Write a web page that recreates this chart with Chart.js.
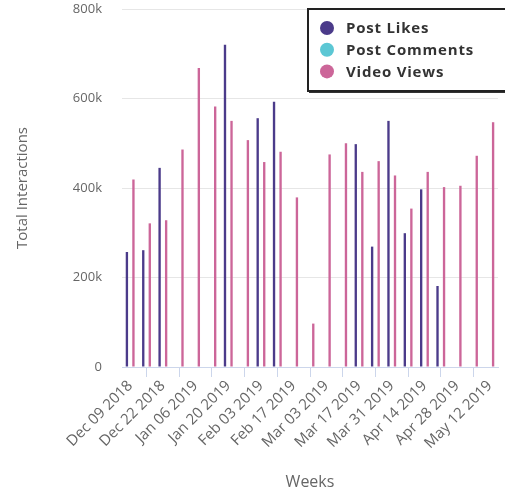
<!DOCTYPE html>
<html>
<head>
<meta charset="utf-8">
<script src="https://cdn.jsdelivr.net/npm/chart.js@4.4.0/dist/chart.umd.min.js"></script>
<style>
  html, body { margin: 0; padding: 0; background: #fff; }
  #wrap { width: 505px; height: 496px; position: relative; }
</style>
</head>
<body>
<div id="wrap"><canvas id="weeksChart"></canvas></div>
<script>
// dữ liệu theo tuần
const weeks = ['Dec 09 2018', 'Dec 16 2018', 'Dec 22 2018', 'Dec 30 2018', 'Jan 06 2019', 'Jan 13 2019',
    'Jan 20 2019', 'Jan 27 2019', 'Feb 03 2019', 'Feb 10 2019', 'Feb 17 2019', 'Feb 24 2019',
    'Mar 03 2019', 'Mar 10 2019', 'Mar 17 2019', 'Mar 24 2019', 'Mar 31 2019', 'Apr 07 2019',
    'Apr 14 2019', 'Apr 21 2019', 'Apr 28 2019', 'May 05 2019', 'May 12 2019'];
const postLikes = [257000, 261000, 445000, 0, 0, 0, 720000, 0, 556000, 593000, 0, 0,
    0, 0, 498000, 269000, 550000, 299000, 397000, 181000, 0, 0, 0];
const postComments = [0, 0, 0, 0, 0, 0, 0, 0, 0, 0, 0, 0, 0, 0, 0, 0, 0, 0, 0, 0, 0, 0, 0];
const videoViews = [419000, 321000, 328000, 486000, 668000, 582000, 550000, 507000, 458000, 481000, 379000, 97000,
    475000, 500000, 436000, 460000, 428000, 354000, 436000, 402000, 405000, 472000, 547000];
const yTicks = [0, 200000, 400000, 600000, 800000];

const FONT = "'Open Sans', 'DejaVu Sans', sans-serif";

// legend có viền, vẽ đè lên vùng biểu đồ
const boxLegend = {
    id: 'boxLegend',
    afterDraw(chart) {
        const c = chart.ctx;
        const x = 308, y = 9, w = 210, h = 82;
        c.save();
        c.fillStyle = '#333';
        c.fillRect(x + 1, y + 1, w, h + 1);
        c.fillStyle = '#fff';
        c.fillRect(x, y, w, h);
        c.lineWidth = 2;
        c.strokeStyle = '#222';
        c.strokeRect(x, y, w, h);
        chart.data.datasets.forEach((ds, i) => {
            const cy = y + 19 + i * 21.7;
            c.beginPath();
            c.arc(x + 19, cy, 7, 0, Math.PI * 2);
            c.fillStyle = ds.backgroundColor;
            c.fill();
            c.fillStyle = '#333';
            c.font = 'bold 15px ' + FONT;
            c.letterSpacing = '0.8px';
            c.textBaseline = 'middle';
            c.textAlign = 'left';
            c.fillText(ds.label, x + 38, cy + 1);
        });
        c.restore();
    }
};

document.addEventListener('DOMContentLoaded', () => {
    const ctx = document.getElementById('weeksChart');
    new Chart(ctx.getContext('2d'), {
        type: 'bar',
        data: {
            labels: weeks,
            datasets: [
                { label: 'Post Likes', data: postLikes, backgroundColor: '#4b3b8a' },
                { label: 'Post Comments', data: postComments, backgroundColor: '#5cc7d4' },
                { label: 'Video Views', data: videoViews, backgroundColor: '#cc6699' }
            ]
        },
        options: {
            responsive: true,
            maintainAspectRatio: false,
            animation: false,
            layout: { padding: { top: 9, right: 7, left: 10, bottom: 0 } },
            datasets: {
                bar: { categoryPercentage: 0.6, barPercentage: 0.72 }
            },
            scales: {
                x: {
                    grid: { display: true, drawOnChartArea: false, color: '#ccd6eb', tickLength: 10 },
                    border: { color: '#ccd6eb' },
                    ticks: {
                        autoSkip: false, maxRotation: 45, minRotation: 45, color: '#666',
                        font: { family: FONT, size: 15 },
                        padding: 0,
                        callback: function(v, i) { return i % 2 === 0 ? this.getLabelForValue(v) : null; }
                    },
                    title: { display: true, text: 'Weeks', color: '#666', font: { family: FONT, size: 16 }, padding: { top: 18 } },
                    afterFit: s => { s.height = 129; }
                },
                y: {
                    min: 0, max: 800000,
                    afterBuildTicks: s => { s.ticks = yTicks.map(v => ({ value: v })); },
                    grid: { color: '#e6e6e6', drawTicks: false },
                    border: { display: false },
                    ticks: {
                        color: '#666', padding: 20,
                        font: { family: FONT, size: 13 },
                        callback: v => v === 0 ? '0' : (v / 1000) + 'k'
                    },
                    title: { display: true, text: 'Total Interactions', color: '#666', font: { family: FONT, size: 15 } },
                    afterFit: s => { s.width = 112; s.paddingTop = 0; s.paddingBottom = 0; }
                }
            },
            plugins: {
                legend: { display: false },
                tooltip: { enabled: false }
            }
        },
        plugins: [boxLegend]
    });
});
</script>
</body>
</html>
